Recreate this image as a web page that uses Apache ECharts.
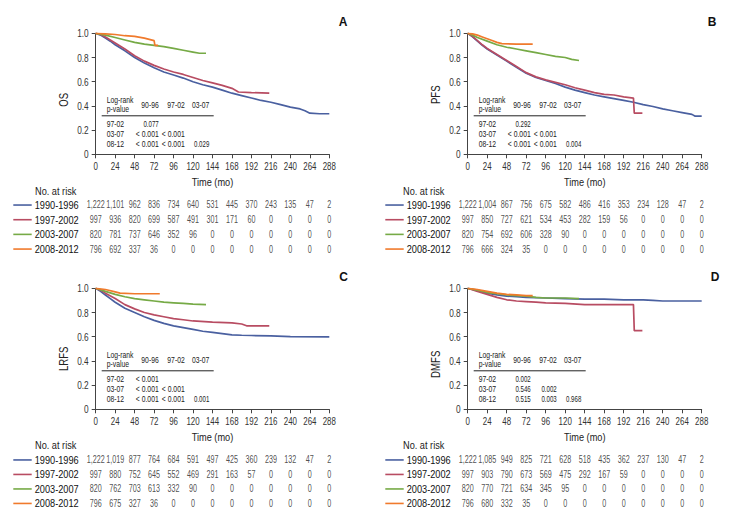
<!DOCTYPE html>
<html><head><meta charset="utf-8">
<script src="https://cdn.jsdelivr.net/npm/echarts@6/dist/echarts.min.js"></script>
<style>html,body{margin:0;padding:0;background:#fff}#c{width:730px;height:518px}</style>
</head><body><div id="c"></div>
<script>
const FONT = '"Liberation Sans",Arial,sans-serif';
const timeTicks = [0,24,48,72,96,120,144,168,192,216,240,264,288];
const groups = ['1990-1996','1997-2002','2003-2007','2008-2012'];
const colors = ['#4a60a0','#b84c62','#76aa46','#f07a2c'];
const panelLetters = ['A','B','C','D'];
const endpointNames = ['OS','PFS','LRFS','DMFS'];

// Kaplan-Meier curves [time (mo), survival]
const osBlue = [[0,1],[6,0.985],[12,0.96],[18,0.935],[24,0.905],[30,0.88],[36,0.855],[48,0.80],[60,0.755],[72,0.715],[84,0.68],[96,0.655],[108,0.63],[120,0.60],[132,0.575],[144,0.555],[156,0.53],[168,0.505],[180,0.485],[192,0.465],[204,0.445],[216,0.43],[228,0.41],[240,0.39],[252,0.375],[258,0.36],[264,0.34],[276,0.335],[288,0.335]];
const osRed = [[0,1],[6,0.99],[12,0.97],[18,0.945],[24,0.92],[30,0.895],[36,0.87],[48,0.815],[60,0.77],[72,0.735],[84,0.705],[96,0.68],[108,0.66],[120,0.635],[132,0.61],[144,0.59],[156,0.57],[168,0.545],[176,0.515],[192,0.51],[214,0.505]];
const osGreen = [[0,1],[12,0.985],[24,0.965],[36,0.945],[48,0.925],[60,0.91],[72,0.90],[84,0.89],[96,0.875],[108,0.86],[120,0.845],[128,0.835],[136,0.835]];
const osOrange = [[0,1],[12,0.995],[24,0.99],[36,0.98],[48,0.975],[60,0.96],[66,0.95],[72,0.94],[73,0.90],[77,0.90]];

const pfsBlue = [[0,1],[6,0.97],[12,0.935],[18,0.90],[24,0.87],[30,0.845],[36,0.82],[48,0.77],[60,0.72],[72,0.67],[84,0.635],[96,0.61],[108,0.585],[120,0.555],[132,0.53],[144,0.51],[156,0.49],[168,0.475],[180,0.46],[192,0.445],[204,0.43],[216,0.41],[228,0.395],[240,0.375],[252,0.36],[264,0.345],[276,0.33],[280,0.315],[288,0.315]];
const pfsRed = [[0,1],[6,0.975],[12,0.94],[18,0.905],[24,0.875],[30,0.85],[36,0.825],[48,0.775],[60,0.725],[72,0.675],[84,0.64],[96,0.615],[108,0.595],[120,0.575],[132,0.55],[144,0.53],[156,0.51],[168,0.495],[180,0.49],[192,0.475],[204,0.465],[205,0.34],[215,0.34]];
const pfsGreen = [[0,1],[6,0.985],[12,0.965],[24,0.935],[36,0.905],[48,0.885],[60,0.87],[72,0.855],[84,0.84],[96,0.825],[108,0.81],[120,0.80],[128,0.785],[137,0.775]];
const pfsOrange = [[0,1],[6,0.995],[12,0.985],[18,0.97],[24,0.955],[30,0.94],[36,0.925],[42,0.915],[60,0.91],[80,0.91]];

const lrfsBlue = [[0,1],[6,0.975],[12,0.945],[18,0.915],[24,0.885],[30,0.86],[36,0.835],[48,0.80],[60,0.765],[72,0.735],[84,0.71],[96,0.69],[108,0.675],[120,0.66],[132,0.645],[144,0.635],[156,0.625],[168,0.615],[180,0.612],[192,0.61],[216,0.607],[240,0.60],[288,0.598]];
const lrfsRed = [[0,1],[6,0.985],[12,0.96],[24,0.915],[36,0.865],[48,0.83],[60,0.80],[72,0.78],[84,0.765],[96,0.75],[108,0.74],[120,0.73],[144,0.72],[168,0.715],[180,0.705],[186,0.69],[214,0.69]];
const lrfsGreen = [[0,1],[12,0.975],[24,0.95],[36,0.93],[48,0.915],[60,0.905],[72,0.895],[84,0.885],[96,0.88],[108,0.875],[120,0.87],[136,0.865]];
const lrfsOrange = [[0,1],[12,0.99],[24,0.97],[30,0.96],[48,0.955],[79,0.955]];

const dmfsBlue = [[0,1],[12,0.98],[24,0.96],[36,0.945],[48,0.935],[60,0.93],[72,0.925],[96,0.92],[120,0.915],[144,0.91],[168,0.91],[192,0.905],[216,0.905],[228,0.9],[240,0.895],[288,0.895]];
const dmfsRed = [[0,1],[12,0.975],[24,0.95],[36,0.925],[48,0.905],[60,0.895],[72,0.89],[84,0.885],[96,0.88],[120,0.875],[144,0.865],[204,0.865],[205,0.65],[215,0.65]];
const dmfsGreen = [[0,1],[12,0.985],[24,0.965],[36,0.955],[48,0.945],[60,0.94],[72,0.935],[84,0.925],[96,0.92],[120,0.92],[137,0.915]];
const dmfsOrange = [[0,1],[12,0.99],[24,0.975],[36,0.96],[48,0.95],[60,0.945],[72,0.94],[80,0.94]];

// Number at risk (at timeTicks)
const riskOS = [
  [1222,1101,962,836,734,640,531,445,370,243,135,47,2],
  [997,936,820,699,587,491,301,171,60,0,0,0,0],
  [820,781,737,646,352,96,0,0,0,0,0,0,0],
  [796,692,337,36,0,0,0,0,0,0,0,0,0]];
const riskPFS = [
  [1222,1004,867,756,675,582,486,416,353,234,128,47,2],
  [997,850,727,621,534,453,282,159,56,0,0,0,0],
  [820,754,692,606,328,90,0,0,0,0,0,0,0],
  [796,666,324,35,0,0,0,0,0,0,0,0,0]];
const riskLRFS = [
  [1222,1019,877,764,684,591,497,425,360,239,132,47,2],
  [997,880,752,645,552,469,291,163,57,0,0,0,0],
  [820,762,703,613,332,90,0,0,0,0,0,0,0],
  [796,675,327,36,0,0,0,0,0,0,0,0,0]];
const riskDMFS = [
  [1222,1085,949,825,721,628,518,435,362,237,130,47,2],
  [997,903,790,673,569,475,292,167,59,0,0,0,0],
  [820,770,721,634,345,95,0,0,0,0,0,0,0],
  [796,680,332,35,0,0,0,0,0,0,0,0,0]];

// Log-rank p-value tables
const pCols = ['90-96','97-02','03-07'];
const pRows = ['97-02','03-07','08-12'];
const pOS = [['0.077'],['< 0.001','< 0.001'],['< 0.001','< 0.001','0.029']];
const pPFS = [['0.292'],['< 0.001','< 0.001'],['< 0.001','< 0.001','0.004']];
const pLRFS = [['< 0.001'],['< 0.001','< 0.001'],['< 0.001','< 0.001','0.001']];
const pDMFS = [['0.002'],['0.546','0.002'],['0.515','0.003','0.968']];

const curves = [
  [osBlue, osRed, osGreen, osOrange],
  [pfsBlue, pfsRed, pfsGreen, pfsOrange],
  [lrfsBlue, lrfsRed, lrfsGreen, lrfsOrange],
  [dmfsBlue, dmfsRed, dmfsGreen, dmfsOrange]];
const risks = [riskOS, riskPFS, riskLRFS, riskDMFS];
const pTables = [pOS, pPFS, pLRFS, pDMFS];

// layout
const plotGrids = [
  {left:95.7, top:33.3, width:233.6, height:121},
  {left:467.7, top:33.3, width:234, height:121},
  {left:95.7, top:288.3, width:233.6, height:121},
  {left:467.7, top:288.3, width:234, height:121}];
const riskGrids = [
  {left:95.7, top:197.7, width:233.6, height:58.7},
  {left:467.7, top:197.7, width:234, height:58.7},
  {left:95.7, top:452.7, width:233.6, height:58},
  {left:467.7, top:452.7, width:234, height:58}];
const letterPos = [[343,22],[712,22],[343.5,276.5],[715,277]];
const yNameShift = [12, 2, 20, 31];
const noRiskPos = [[35,191],[403,191],[35,445],[403,445]];

const axisColor = '#444';
const txt = '#222';

const grid = [], xAxis = [], yAxis = [], series = [], graphic = [];
for (let p = 0; p < 4; p++) {
  grid.push(Object.assign({containLabel:false}, plotGrids[p]));
  xAxis.push({type:'value', gridIndex:p, min:0, max:288, interval:24,
    name:'Time (mo)', nameLocation:'middle', nameGap:22, nameMoveOverlap:false,
    nameTextStyle:{fontFamily:FONT, fontSize:11.5, color:txt},
    axisLine:{show:true, lineStyle:{color:axisColor, width:1}},
    axisTick:{show:true, length:4, lineStyle:{color:axisColor}},
    axisLabel:{fontFamily:FONT, fontSize:11, color:'#333', margin:6, showMinLabel:true, showMaxLabel:true, hideOverlap:false},
    splitLine:{show:false}});
  yAxis.push({type:'value', gridIndex:p, min:0, max:1, interval:0.2,
    name:endpointNames[p], nameLocation:'middle', nameGap:26, nameRotate:90, nameMoveOverlap:false,
    nameTextStyle:{fontFamily:FONT, fontSize:12, color:txt, padding:[0, yNameShift[p], 0, 0]},
    axisLine:{show:true, lineStyle:{color:axisColor, width:1}},
    axisTick:{show:true, length:4, lineStyle:{color:axisColor}},
    axisLabel:{fontFamily:FONT, fontSize:11.5, color:'#333', margin:7,
      formatter:v => v === 0 ? '0' : v.toFixed(1)},
    splitLine:{show:false}});
  curves[p].forEach((d, g) => {
    series.push({type:'line', xAxisIndex:p, yAxisIndex:p, data:d, showSymbol:false,
      symbol:'none', lineStyle:{color:colors[g], width:1.7}, itemStyle:{color:colors[g]},
      animation:false, silent:true, z:2+g});
  });
}
for (let p = 0; p < 4; p++) {
  const gi = 4 + p;
  grid.push(Object.assign({containLabel:false}, riskGrids[p]));
  xAxis.push({type:'value', gridIndex:gi, min:0, max:288, interval:24, show:false});
  yAxis.push({type:'category', gridIndex:gi, data:groups, inverse:true,
    axisLine:{show:false}, axisTick:{show:false}, splitLine:{show:false},
    axisLabel:{margin:17, interval:0, fontFamily:FONT, fontSize:11.5, color:'#111'}});
  const data = [];
  risks[p].forEach((row, r) => row.forEach((n, k) => data.push([timeTicks[k], r, n])));
  series.push({type:'scatter', xAxisIndex:gi, yAxisIndex:gi, data:data, symbolSize:0,
    animation:false, silent:true,
    label:{show:true, position:'inside', fontFamily:FONT, fontSize:10, color:txt,
      formatter:pr => pr.value[2].toLocaleString('en-US')}});
  // legend keys beside group names
  const rg = riskGrids[p];
  groups.forEach((g, r) => {
    const y = rg.top + (r + 0.5) * rg.height / 4;
    graphic.push({type:'line', shape:{x1:rg.left-82.4, y1:y, x2:rg.left-64, y2:y},
      style:{stroke:colors[r], lineWidth:1.6}});
  });
}
// texts: letters, "No. at risk", p-value tables
for (let p = 0; p < 4; p++) {
  graphic.push({type:'text', x:letterPos[p][0], y:letterPos[p][1],
    style:{text:panelLetters[p], font:'bold 12px "Liberation Sans",Arial,sans-serif', fill:'#111', align:'center', verticalAlign:'middle'}});
  graphic.push({type:'text', x:noRiskPos[p][0], y:noRiskPos[p][1],
    style:{text:'No. at risk', font:'11.5px '+FONT, fill:txt, align:'left', verticalAlign:'middle'}});
  const gl = plotGrids[p].left, gt = plotGrids[p].top;
  const colX = [gl+63, gl+89, gl+113.6];
  const sf = '8.5px '+FONT;
  graphic.push({type:'text', x:gl+11, y:gt+67, style:{text:'Log-rank', font:sf, fill:txt, align:'left', verticalAlign:'middle'}});
  graphic.push({type:'text', x:gl+11, y:gt+76, style:{text:'p-value', font:sf, fill:txt, align:'left', verticalAlign:'middle'}});
  pCols.forEach((h,i) => graphic.push({type:'text', x:colX[i], y:gt+72, style:{text:h, font:sf, fill:txt, align:'right', verticalAlign:'middle'}}));
  graphic.push({type:'line', shape:{x1:gl+6, y1:gt+82.5, x2:gl+118, y2:gt+82.5}, style:{stroke:'#222', lineWidth:1}});
  pRows.forEach((rl, r) => {
    const y = gt + 90.5 + 10*r;
    graphic.push({type:'text', x:gl+11, y:y, style:{text:rl, font:sf, fill:txt, align:'left', verticalAlign:'middle'}});
    pTables[p][r].forEach((v, c) => graphic.push({type:'text', x:colX[c], y:y, style:{text:v, font:sf, fill:txt, align:'right', verticalAlign:'middle'}}));
  });
}
const chart = echarts.init(document.getElementById('c'), null, {renderer:'svg', width:730, height:518});
chart.setOption({animation:false, backgroundColor:'#fff', grid, xAxis, yAxis, series, graphic});

// condensed typeface look: compress each text horizontally about its own anchor
function condense() {
  document.querySelectorAll('#c svg text').forEach(t => {
    if (t.getAttribute('data-c')) return;
    const s = t.textContent.trim();
    if (/^[ABCD]$/.test(s)) return;
    const k = /^[\d.,]+$/.test(s) ? 0.72 : 0.8;
    const x = parseFloat(t.getAttribute('x') || '0');
    const tr = t.getAttribute('transform') || '';
    t.setAttribute('transform', (tr + ' translate(' + x + ' 0) scale(' + k + ' 1) translate(' + (-x) + ' 0)').trim());
    t.setAttribute('data-c', '1');
  });
}
chart.on('finished', condense);
condense();
setTimeout(condense, 20);
</script></body></html>
